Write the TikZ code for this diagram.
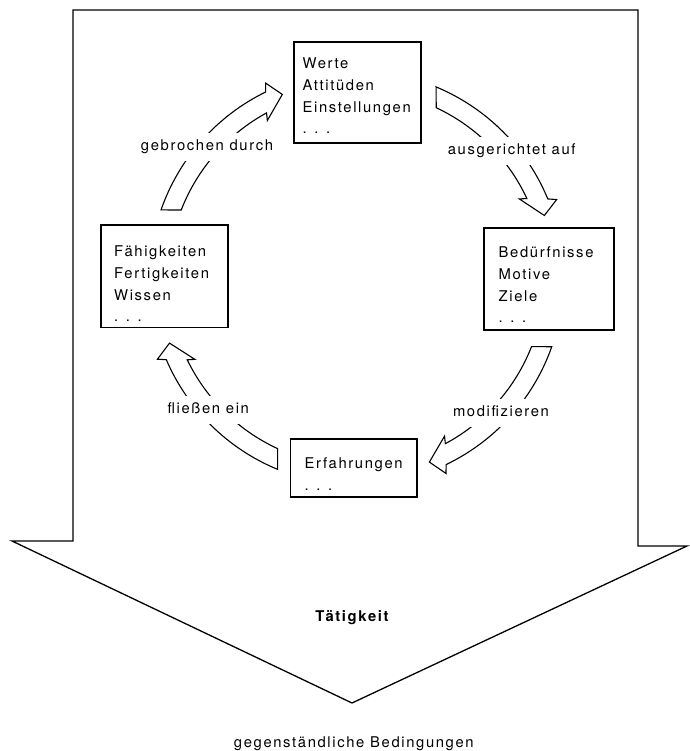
\documentclass[tikz,border=0pt]{standalone}
\usepackage{fontspec}
\setmainfont{TeX Gyre Heros}[LetterSpace=11]
\usetikzlibrary{calc}
\newcommand\cyclearrow[3]{%
  \draw[carrow] (#1:207pt) arc[start angle=#1, end angle={#3+4.05}, radius=207pt]
    -- ({#3+3}:215pt) -- (#3:198pt) -- ({#3+7.5}:181pt) -- ({#3+6.6}:188pt)
    arc[start angle={#3+6.6}, end angle=#2, radius=188pt] -- cycle;}
\begin{document}
\begin{tikzpicture}[x=1pt,y=1pt,
  txt/.style={font=\fontsize{14.8}{21.7}\selectfont},
  box/.style={draw, line width=1.1pt, inner sep=0pt},
  boxtext/.style={txt, anchor=north west, align=left, inner sep=0pt},
  lbl/.style={txt, fill=white, inner xsep=2pt, inner ysep=7pt, text height=11pt, text depth=3.5pt, anchor=base},
  carrow/.style={draw, fill=white, line width=1.1pt, line join=miter},
  plain/.style={txt, inner sep=0pt, anchor=base}
]
\useasboundingbox (0,0) rectangle (689,751);
% big arrow (Taetigkeit)
\draw[line width=1.3pt, line join=miter] (73,741) -- (638,741) -- (638,205) -- (687,205)
  -- (352,48) -- (12,210) -- (73,210) -- cycle;
% boxes
\node[box, minimum width=127pt, minimum height=101pt] (werte) at (357.5,658.5) {};
\node[box, minimum width=130pt, minimum height=102pt] (beduerf) at (549,472) {};
\node[box, minimum width=127pt, minimum height=102.3pt] (faehig) at (164.5,474.85) {};
\node[box, minimum width=126.3pt, minimum height=58pt] (erfahr) at (353.85,283) {};
\node[boxtext] (wertetxt) at (302.5,693.3) {Werte\\Attitüden\\Einstellungen\\. . .};
\node[boxtext] (beduerftxt) at (498.5,504.3) {Bedürfnisse\\Motive\\Ziele\\. . .};
\node[boxtext] (faehigtxt) at (114,505.3) {Fähigkeiten\\Fertigkeiten\\Wissen\\. . .};
\node[boxtext] (erfahrtxt) at (304.5,293.7) {Erfahrungen\\. . .};
% curved arrows of the cycle
\begin{scope}[shift={(356.5,473)}]
  \cyclearrow{160.8}{158.8}{112}
  \cyclearrow{67.4}{64.9}{18.4}
  \cyclearrow{-19.4}{-21.4}{-68.4}
  \cyclearrow{247.6}{245.2}{199.2}
\end{scope}
% labels on the arrows
\node[lbl] (l1) at (207,600.3) {gebrochen durch};
\node[lbl] (l2) at (511.7,596) {ausgerichtet auf};
\node[lbl] (l3) at (501,334.3) {modifizieren};
\node[lbl] (l4) at (208.3,337) {fließen ein};
% texts of the big arrow
\node[plain, font=\fontsize{14.8}{21.7}\selectfont\bfseries] (taet) at (352,129) {Tätigkeit};
\node[plain] (beding) at (353.8,3.3) {gegenständliche Bedingungen};
\end{tikzpicture}
\end{document}
